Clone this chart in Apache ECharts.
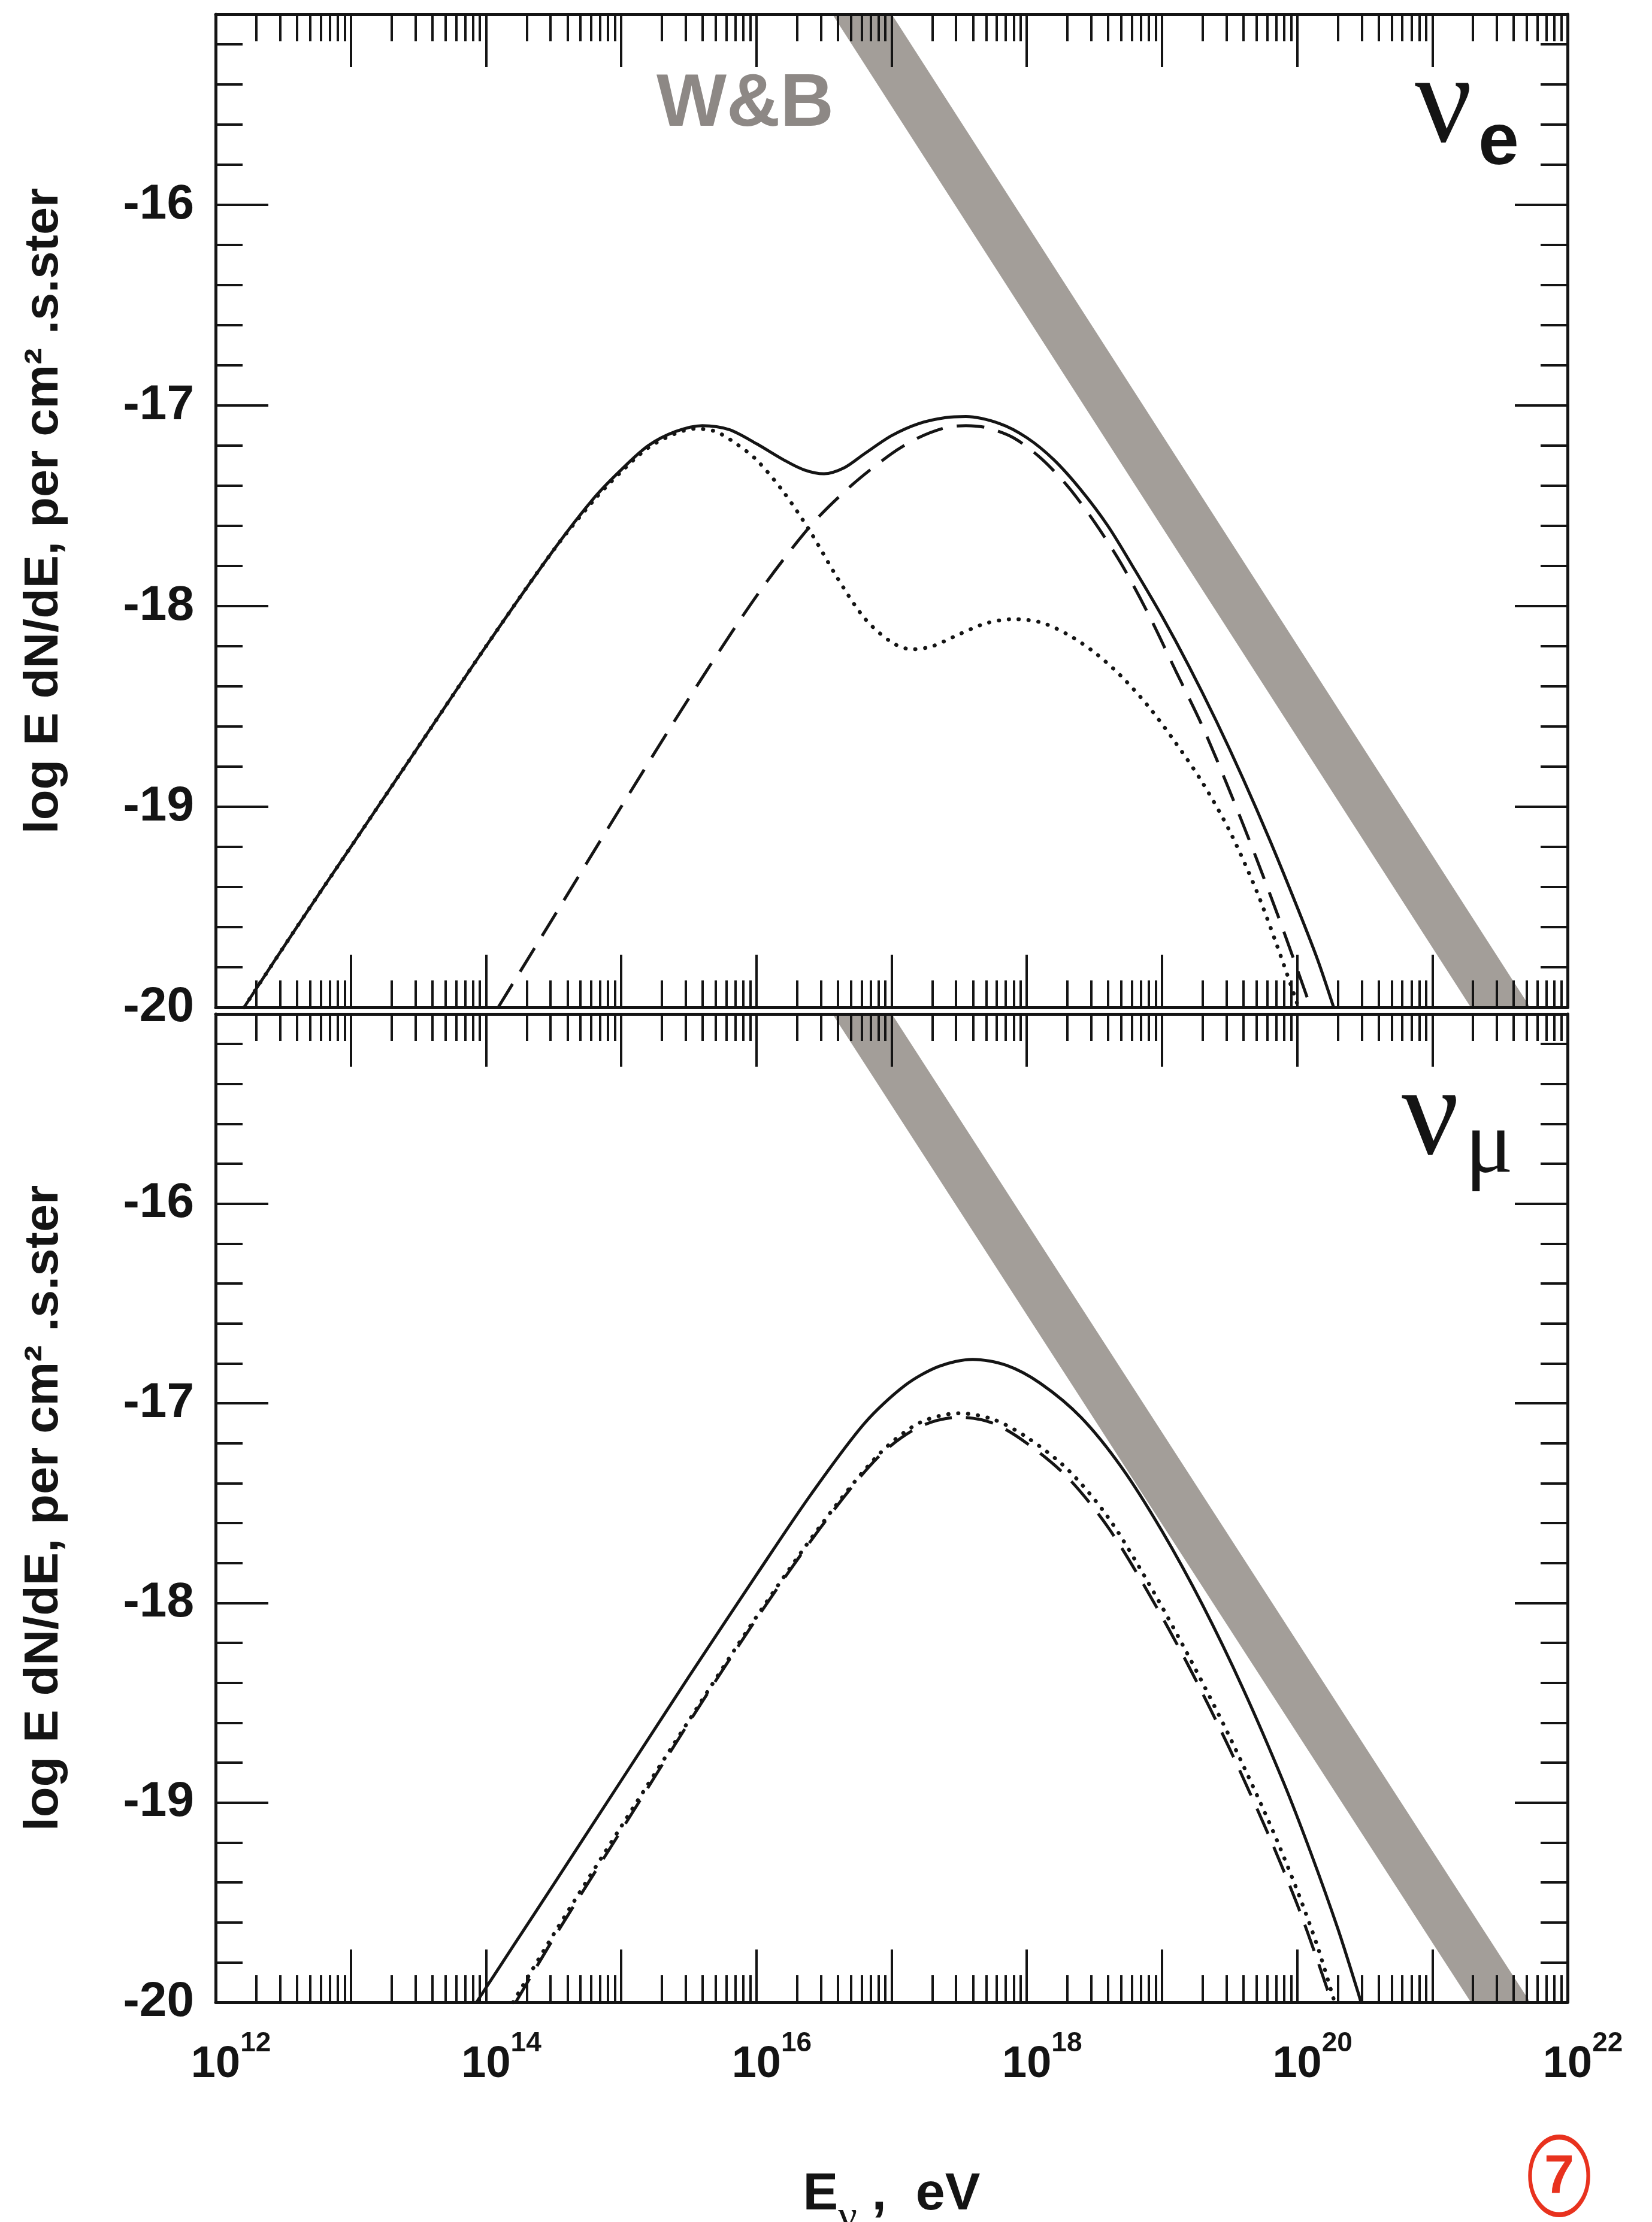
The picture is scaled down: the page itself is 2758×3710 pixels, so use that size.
<!DOCTYPE html>
<html>
<head>
<meta charset="utf-8">
<script src="https://cdn.jsdelivr.net/npm/echarts@6/dist/echarts.min.js"></script>
<style>
html,body{margin:0;padding:0;background:#ffffff;}
#chart{width:2758px;height:3710px;}
</style>
</head>
<body>
<div id="chart"></div>
<script>
// ---------- axes (x = log10(E / eV), y = log10(E dN/dE)) ----------
const xRange = [12, 22];
const yRange = [-20, -15.05];
const xMajorTicks = [12, 13, 14, 15, 16, 17, 18, 19, 20, 21, 22];
const xLabelTicks = [12, 14, 16, 18, 20, 22];
const yMajorTicks = [-20, -19, -18, -17, -16];
const yMinorTicks = [-19.8, -19.6, -19.4, -19.2, -18.8, -18.6, -18.4, -18.2,
                     -17.8, -17.6, -17.4, -17.2, -16.8, -16.6, -16.4, -16.2,
                     -15.8, -15.6, -15.4, -15.2];
const xMinorMultipliers = [2, 3, 4, 5, 6, 7, 8, 9];

// ---------- top panel: nu_e ----------
const veSolidX = [12.21, 12.6, 13.0, 13.5, 14.0, 14.5, 14.8, 15.0, 15.2, 15.4, 15.6, 15.8, 16.0, 16.2, 16.35, 16.5, 16.65, 16.8, 17.0, 17.2, 17.4, 17.55, 17.8, 18.0, 18.2, 18.4, 18.6, 18.8, 19.0, 19.2, 19.4, 19.6, 19.8, 20.0, 20.15, 20.27];
const veSolidY = [-20, -19.6, -19.2, -18.7, -18.2, -17.72, -17.46, -17.32, -17.2, -17.13, -17.10, -17.12, -17.19, -17.27, -17.32, -17.34, -17.31, -17.24, -17.15, -17.09, -17.06, -17.055, -17.09, -17.16, -17.27, -17.42, -17.6, -17.82, -18.05, -18.3, -18.57, -18.86, -19.17, -19.5, -19.76, -20.0];

const veDashX = [14.09, 14.5, 15.0, 15.5, 16.0, 16.4, 16.7, 17.0, 17.2, 17.4, 17.55, 17.7, 17.9, 18.1, 18.3, 18.5, 18.7, 18.9, 19.1, 19.3, 19.5, 19.7, 19.9, 20.1];
const veDashY = [-20, -19.55, -19.0, -18.46, -17.95, -17.6, -17.4, -17.24, -17.16, -17.11, -17.1, -17.11, -17.16, -17.26, -17.4, -17.58, -17.79, -18.04, -18.32, -18.6, -18.92, -19.26, -19.62, -20.0];

const veDotX = [12.21, 12.6, 13.0, 13.5, 14.0, 14.5, 14.8, 15.0, 15.2, 15.4, 15.55, 15.7, 15.85, 16.0, 16.2, 16.4, 16.6, 16.8, 17.0, 17.15, 17.3, 17.5, 17.7, 17.9, 18.1, 18.3, 18.5, 18.7, 18.9, 19.1, 19.3, 19.5, 19.7, 19.85, 20.0, 20.04];
const veDotY = [-20, -19.6, -19.2, -18.7, -18.2, -17.72, -17.47, -17.33, -17.21, -17.14, -17.115, -17.13, -17.19, -17.27, -17.43, -17.63, -17.86, -18.06, -18.18, -18.215, -18.2, -18.14, -18.085, -18.065, -18.08, -18.14, -18.23, -18.35, -18.5, -18.68, -18.88, -19.12, -19.42, -19.69, -19.98, -20.06];

// ---------- bottom panel: nu_mu ----------
const vmSolidX = [13.93, 14.2, 14.5, 15.0, 15.5, 16.0, 16.4, 16.8, 17.1, 17.35, 17.6, 17.85, 18.1, 18.4, 18.7, 19.0, 19.3, 19.6, 19.9, 20.1, 20.3, 20.45, 20.48];
const vmSolidY = [-20, -19.72, -19.41, -18.89, -18.37, -17.86, -17.46, -17.1, -16.91, -16.815, -16.78, -16.81, -16.9, -17.07, -17.32, -17.64, -18.01, -18.43, -18.9, -19.25, -19.63, -19.95, -20.02];

const vmDashX = [14.22, 14.5, 15.0, 15.5, 16.0, 16.5, 16.9, 17.2, 17.5, 17.75, 18.0, 18.3, 18.6, 18.9, 19.2, 19.5, 19.8, 20.0, 20.15, 20.27];
const vmDashY = [-20, -19.68, -19.14, -18.6, -18.08, -17.6, -17.27, -17.12, -17.07, -17.1, -17.2, -17.37, -17.62, -17.95, -18.32, -18.73, -19.18, -19.51, -19.79, -20.03];

const vmDotX = [14.2, 14.5, 15.0, 15.5, 16.0, 16.5, 16.9, 17.2, 17.5, 17.75, 18.0, 18.3, 18.6, 18.9, 19.2, 19.5, 19.8, 20.0, 20.15, 20.29];
const vmDotY = [-20, -19.66, -19.12, -18.59, -18.07, -17.59, -17.26, -17.1, -17.05, -17.08, -17.17, -17.33, -17.57, -17.9, -18.27, -18.67, -19.11, -19.44, -19.72, -20.03];

// ---------- W&B bound (grey band, both panels) ----------
const wbLogE  = [16.0, 22.0];
const wbUpper = [-14.0, -20.29];
const wbLower = [-14.46, -20.75];

// ================= styling / layout =================
const INK = '#141414';
const BAND = '#a39e99';
const SANS = '"Liberation Sans", Arial, Helvetica, sans-serif';
const SERIF = '"Liberation Serif", "Times New Roman", serif';

const xMinorTicks = [];
for (let n = xRange[0]; n < xRange[1]; n++) {
  xMinorMultipliers.forEach(k => xMinorTicks.push(n + Math.log10(k)));
}

const grids = [
  {left: 360, right: 141, top: 24, height: 1658},
  {left: 360, right: 141, top: 1693, height: 1650}
];

function xAxisCfg(g, pos, ticks, len, withLine, withLabels) {
  return {
    type: 'value', gridIndex: g, position: pos, min: xRange[0], max: xRange[1], z: 10,
    axisLine: {show: withLine, onZero: false, lineStyle: {color: INK, width: 5}},
    axisTick: {show: true, inside: true, length: len, customValues: ticks,
               lineStyle: {color: INK, width: 4}},
    axisLabel: withLabels ? {
      show: true, customValues: xLabelTicks, margin: 46,
      showMinLabel: true, showMaxLabel: true,
      formatter: v => '{sp|' + v + '}{b|10}{s|' + v + '}',
      rich: {
        b: {fontFamily: SANS, fontWeight: 'bold', fontSize: 74, color: INK, lineHeight: 96, verticalAlign: 'bottom'},
        s: {fontFamily: SANS, fontWeight: 'bold', fontSize: 46, color: INK, lineHeight: 96, verticalAlign: 'top'},
        sp: {fontFamily: SANS, fontWeight: 'bold', fontSize: 46, color: 'rgba(0,0,0,0)', lineHeight: 96, verticalAlign: 'top'}
      }
    } : {show: false},
    splitLine: {show: false}
  };
}

function yAxisCfg(g, pos, ticks, len, withLine, withLabels) {
  return {
    type: 'value', gridIndex: g, position: pos, min: yRange[0], max: yRange[1], z: 10,
    axisLine: {show: withLine, onZero: false, lineStyle: {color: INK, width: 5}},
    axisTick: {show: true, inside: true, length: len, customValues: ticks,
               lineStyle: {color: INK, width: 4}},
    axisLabel: withLabels ? {
      show: true, customValues: yMajorTicks, margin: 36,
      fontFamily: SANS, fontWeight: 'bold', fontSize: 82, color: INK,
      formatter: v => String(v)
    } : {show: false},
    splitLine: {show: false}
  };
}

const xAxes = [], yAxes = [];
[0, 1].forEach(g => {
  xAxes.push(xAxisCfg(g, 'bottom', xMajorTicks, 88, true, g === 1));
  xAxes.push(xAxisCfg(g, 'bottom', xMinorTicks, 45, false, false));
  xAxes.push(xAxisCfg(g, 'top', xMajorTicks, 88, true, false));
  xAxes.push(xAxisCfg(g, 'top', xMinorTicks, 45, false, false));
  yAxes.push(yAxisCfg(g, 'left', yMajorTicks, 88, true, true));
  yAxes.push(yAxisCfg(g, 'left', yMinorTicks, 45, false, false));
  yAxes.push(yAxisCfg(g, 'right', yMajorTicks, 88, true, false));
  yAxes.push(yAxisCfg(g, 'right', yMinorTicks, 45, false, false));
});

// x-axis title on the lower panel
xAxes[4].name = '{b|E}{nu|ν}{b| ,  eV}';
xAxes[4].nameLocation = 'middle';
xAxes[4].nameGap = 278;
xAxes[4].nameTextStyle = {
  rich: {
    b: {fontFamily: SANS, fontWeight: 'bold', fontSize: 88, color: INK, lineHeight: 118, verticalAlign: 'top'},
    nu: {fontFamily: SERIF, fontSize: 70, color: INK, lineHeight: 90, verticalAlign: 'bottom'}
  }
};

const solidStyle = {color: INK, width: 5, type: 'solid'};
const dashStyle = {color: INK, width: 5, type: [46, 24]};
const dotStyle = {color: INK, width: 6.5, type: [0.5, 16], cap: 'round'};

function curve(g, xs, ys, style) {
  return {
    type: 'line', xAxisIndex: g * 4, yAxisIndex: g * 4,
    data: xs.map((x, i) => [x, ys[i]]),
    showSymbol: false, symbol: 'none', smooth: 0.3, clip: true,
    lineStyle: style, z: 5, silent: true
  };
}

function band(g) {
  return {
    type: 'custom', xAxisIndex: g * 4, yAxisIndex: g * 4, clip: true, z: 1, silent: true,
    data: wbLogE.map((x, i) => [x, wbUpper[i], wbLower[i]]),
    encode: {x: 0, y: [1, 2]},
    renderItem: function (params, api) {
      if (params.dataIndex !== 0) return null;
      const pts = wbLogE.map((x, i) => api.coord([x, wbUpper[i]]));
      for (let i = wbLogE.length - 1; i >= 0; i--) pts.push(api.coord([wbLogE[i], wbLower[i]]));
      return {type: 'polygon', shape: {points: pts}, style: {fill: BAND}};
    }
  };
}

const yTitle = 'log E dN/dE, per cm² .s.ster';

const chart = echarts.init(document.getElementById('chart'), null, {renderer: 'canvas'});
chart.setOption({
  animation: false,
  backgroundColor: '#ffffff',
  grid: grids.map(g => Object.assign({outerBoundsMode: 'none', containLabel: false}, g)),
  xAxis: xAxes,
  yAxis: yAxes,
  series: [
    band(0), band(1),
    curve(0, veDotX, veDotY, dotStyle),
    curve(0, veDashX, veDashY, dashStyle),
    curve(0, veSolidX, veSolidY, solidStyle),
    curve(1, vmDotX, vmDotY, dotStyle),
    curve(1, vmDashX, vmDashY, dashStyle),
    curve(1, vmSolidX, vmSolidY, solidStyle)
  ],
  graphic: [
    // y-axis titles
    {type: 'text', x: 74, y: 853, rotation: Math.PI / 2, scaleX: 1.05, z: 20,
     style: {text: yTitle, font: 'bold 79px ' + SANS, fill: INK,
             textAlign: 'center', textVerticalAlign: 'middle'}},
    {type: 'text', x: 74, y: 2518, rotation: Math.PI / 2, scaleX: 1.05, z: 20,
     style: {text: yTitle, font: 'bold 79px ' + SANS, fill: INK,
             textAlign: 'center', textVerticalAlign: 'middle'}},
    // W&B label
    {type: 'text', x: 1096, y: 176, z: 20,
     style: {text: 'W&B', font: 'bold 124px ' + SANS, fill: '#8d8885',
             textAlign: 'left', textVerticalAlign: 'middle'}},
    // nu_e
    {type: 'text', x: 2362, y: 180, z: 20,
     style: {text: 'ν', font: '212px ' + SERIF, fill: INK, textAlign: 'left', textVerticalAlign: 'middle'}},
    {type: 'text', x: 2468, y: 240, z: 20,
     style: {text: 'e', font: 'bold 122px ' + SANS, fill: INK, textAlign: 'left', textVerticalAlign: 'middle'}},
    // nu_mu
    {type: 'text', x: 2340, y: 1870, z: 20,
     style: {text: 'ν', font: '212px ' + SERIF, fill: INK, textAlign: 'left', textVerticalAlign: 'middle'}},
    {type: 'text', x: 2446, y: 1918, z: 20,
     style: {text: 'μ', font: '150px ' + SERIF, fill: INK, textAlign: 'left', textVerticalAlign: 'middle'}},
    // red page mark
    {type: 'circle', x: 2603, y: 3633, scaleX: 0.9, scaleY: 1.2, shape: {cx: 0, cy: 0, r: 54}, z: 20,
     style: {fill: 'none', stroke: '#e8321e', lineWidth: 7}},
    {type: 'text', x: 2603, y: 3636, z: 20,
     style: {text: '7', font: 'bold 90px ' + SANS, fill: '#e8321e', textAlign: 'center', textVerticalAlign: 'middle'}}
  ]
});
</script>
</body>
</html>
